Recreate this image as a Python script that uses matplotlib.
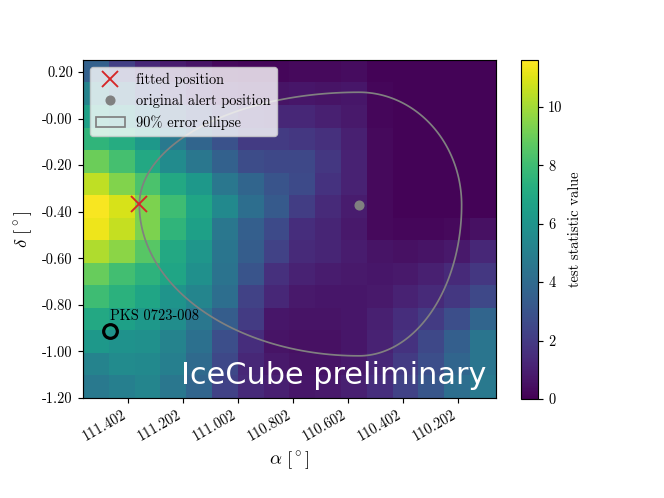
import numpy as np
import matplotlib
matplotlib.use("Agg")
import matplotlib.pyplot as plt
from matplotlib.patches import Polygon

plt.rcParams['font.family'] = 'serif'
plt.rcParams['font.serif'] = ['cmr10']
plt.rcParams['mathtext.fontset'] = 'cm'
plt.rcParams['axes.unicode_minus'] = False

# test statistic map, rows from top (high dec) to bottom, columns from high RA to low RA
ts_map = [
    [3.6, 2.2, 1.3, 0.9, 0.6, 0.3, 0.2, 0.2, 0.3, 0.3, 0.4, 0.1, 0.1, 0.1, 0.1, 0.1],
    [5.2, 4.0, 2.6, 1.8, 1.2, 0.8, 0.6, 0.6, 0.7, 0.6, 0.7, 0.2, 0.1, 0.1, 0.1, 0.1],
    [6.6, 5.8, 4.6, 3.4, 2.6, 2.0, 1.5, 1.3, 1.3, 1.0, 0.8, 0.2, 0.1, 0.1, 0.1, 0.1],
    [7.6, 7.2, 6.2, 4.7, 3.8, 2.9, 2.0, 2.0, 1.9, 1.6, 1.0, 0.3, 0.1, 0.1, 0.1, 0.1],
    [9.0, 8.2, 7.0, 5.6, 4.6, 3.6, 2.7, 2.5, 2.5, 1.9, 1.1, 0.3, 0.1, 0.1, 0.1, 0.1],
    [10.5, 9.4, 8.3, 7.0, 6.2, 4.6, 3.8, 3.0, 2.6, 1.7, 1.1, 0.3, 0.1, 0.1, 0.1, 0.1],
    [11.5, 10.9, 9.3, 8.0, 6.8, 5.5, 4.2, 3.3, 2.1, 1.4, 0.9, 0.3, 0.1, 0.1, 0.1, 0.1],
    [11.3, 10.6, 9.3, 7.6, 6.6, 4.6, 3.5, 2.6, 1.5, 1.2, 0.8, 0.3, 0.2, 0.2, 0.3, 0.5],
    [10.2, 9.6, 8.6, 7.0, 6.1, 4.5, 3.4, 2.3, 1.4, 1.2, 0.9, 0.6, 0.5, 0.6, 0.8, 1.3],
    [8.9, 8.1, 7.5, 6.8, 5.8, 4.4, 3.0, 1.6, 1.1, 0.9, 0.8, 0.7, 0.8, 1.0, 1.4, 1.9],
    [8.0, 7.4, 6.8, 6.0, 5.3, 4.2, 2.3, 1.3, 0.8, 0.7, 0.7, 0.8, 1.1, 1.4, 1.9, 2.5],
    [7.0, 6.6, 6.2, 5.7, 4.6, 3.4, 2.0, 0.7, 0.6, 0.6, 0.7, 1.0, 1.5, 2.0, 2.8, 3.8],
    [6.2, 5.9, 5.8, 5.2, 4.3, 2.8, 1.5, 0.6, 0.5, 0.5, 0.7, 1.1, 1.7, 2.5, 3.5, 4.5],
    [5.2, 5.6, 5.5, 5.0, 4.0, 2.5, 1.3, 0.8, 0.6, 0.6, 0.8, 1.3, 2.0, 2.8, 3.8, 4.5],
    [4.7, 5.0, 5.3, 4.6, 3.8, 2.3, 1.4, 1.0, 0.7, 0.8, 1.0, 1.5, 2.3, 3.1, 4.2, 4.7],
]
ra_range = [111.567, 110.065]
dec_range = [-1.20, 0.2515]
ts_max = 11.6

fit_pos = (111.363, -0.367)
alert_pos = (110.563, -0.371)
# asymmetric 90% error region: ra+, ra-, dec+, dec-
err_ra_plus = 0.799
err_ra_minus = 0.373
err_dec_plus = 0.484
err_dec_minus = 0.648

source_name = 'PKS 0723-008'
source_pos = (111.47, -0.912)

xticks = [111.402, 111.202, 111.002, 110.802, 110.602, 110.402, 110.202]
yticks = [0.20, 0.00, -0.20, -0.40, -0.60, -0.80, -1.00, -1.20]
ytick_labels = ['0.20', '-0.00', '-0.20', '-0.40', '-0.60', '-0.80', '-1.00', '-1.20']

fig = plt.figure(figsize=(6.4, 4.8), dpi=103.75)
ax = fig.add_axes([83/664, 100/498, 413/664, 338/498])
cax = fig.add_axes([521/664, 99/498, 17/664, 339/498])

im = ax.imshow(np.array(ts_map), extent=[ra_range[0], ra_range[1], dec_range[0], dec_range[1]],
               aspect='auto', cmap='viridis', vmin=0, vmax=ts_max, interpolation='nearest')

# error ellipse from four quarter ellipses
t = np.linspace(0, np.pi / 2, 60)
q1 = np.column_stack([alert_pos[0] - err_ra_minus * np.cos(t), alert_pos[1] + err_dec_plus * np.sin(t)])
q2 = np.column_stack([alert_pos[0] + err_ra_plus * np.sin(t), alert_pos[1] + err_dec_plus * np.cos(t)])
q3 = np.column_stack([alert_pos[0] + err_ra_plus * np.cos(t), alert_pos[1] - err_dec_minus * np.sin(t)])
q4 = np.column_stack([alert_pos[0] - err_ra_minus * np.sin(t), alert_pos[1] - err_dec_minus * np.cos(t)])
ell = Polygon(np.vstack([q1, q2, q3, q4]), closed=True, fill=False, edgecolor='grey', lw=1.2,
              label='90% error ellipse')
ax.add_patch(ell)

ax.plot(*fit_pos, 'x', color='C3', markersize=11, mew=1.3, linestyle='none', label='fitted position')
ax.plot(*alert_pos, 'o', color='grey', markersize=6, linestyle='none', label='original alert position')

ax.plot(*source_pos, 'o', mfc='none', mec='black', mew=2.2, markersize=9.5)
ax.text(source_pos[0], source_pos[1] + 0.045, source_name, fontsize=10, ha='left', va='baseline')

ax.text(0.976, 0.042, 'IceCube preliminary', color='white', fontsize=21, family='DejaVu Sans',
        ha='right', va='baseline', transform=ax.transAxes)

handles, labels = ax.get_legend_handles_labels()
order = [labels.index('fitted position'), labels.index('original alert position'),
         labels.index('90% error ellipse')]
ax.legend([handles[i] for i in order], [labels[i] for i in order], loc='upper left')

ax.set_xlim(ra_range[0], ra_range[1])
ax.set_ylim(dec_range[0], dec_range[1])
ax.set_xticks(xticks)
ax.set_xticklabels(['%.3f' % v for v in xticks], rotation=30, ha='right')
ax.set_yticks(yticks)
ax.set_yticklabels(ytick_labels)
ax.set_xlabel(r'$\alpha\ [^\circ]$', fontsize=13)
ax.set_ylabel(r'$\delta\ [^\circ]$', fontsize=13)

cb = fig.colorbar(im, cax=cax)
cb.set_ticks([0, 2, 4, 6, 8, 10])
cb.set_label('test statistic value')

plt.savefig('out.png')
